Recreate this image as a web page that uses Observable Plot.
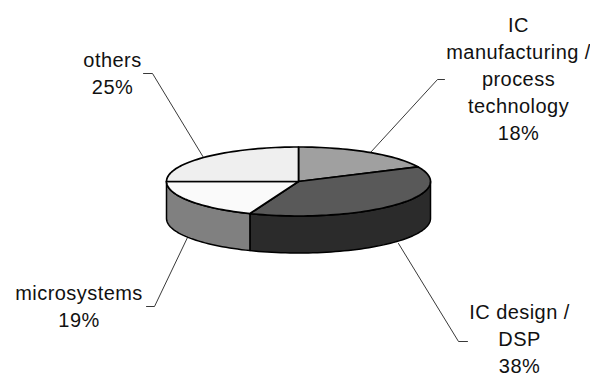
<!DOCTYPE html>
<html>
<head>
<meta charset="utf-8">
<script src="https://cdn.jsdelivr.net/npm/d3@7"></script>
<script src="https://cdn.jsdelivr.net/npm/@observablehq/plot@0.6"></script>
<style>
  html, body { margin: 0; padding: 0; background: #fff; }
  svg text { letter-spacing: 0.45px; }
</style>
</head>
<body>
<div id="chart"></div>
<script>
// Research areas and their shares, clockwise from twelve o'clock
const categories = ["IC manufacturing / process technology", "IC design / DSP", "microsystems", "others"];
const shares = [18, 38, 19, 25];
const labelLines = [
  ["IC", "manufacturing /", "process", "technology"],
  ["IC design /", "DSP"],
  ["microsystems"],
  ["others"]
];

// Tones of the pie's top face and its rim
const topTones = ["#a0a0a0", "#595959", "#fafafa", "#efefef"];
const rimTones = ["#6e6e6e", "#2b2b2b", "#808080", "#bdbdbd"];

// Pie geometry in page units
const pie = {cx: 298, cy: 181, rx: 132, ry: 34.5, depth: 37};
const rimStart = 90, rimEnd = 270;

// Where each label block sits, and the elbow of its leader line
const labelPlacement = [
  {x: 518, y: 76.5, leader: [[444, 79], [437, 79], [370, 152]]},
  {x: 519, y: 337, leader: [[398, 243], [458, 341], [467, 341]]},
  {x: 78.5, y: 304, leader: [[187, 237], [154, 306], [146, 306]]},
  {x: 112, y: 71, leader: [[203, 157], [152, 73], [143, 73]]}
];

// Turn a running percentage into a bearing, in degrees clockwise from the top
const ends = d3.cumsum(shares);
const bearings = categories.map((c, i) => ({
  i,
  from: (ends[i] - shares[i]) * 3.6,
  to: ends[i] * 3.6
}));

const rimPoint = (deg, drop = 0) => {
  const a = deg * Math.PI / 180;
  return {
    x: pie.cx + pie.rx * Math.sin(a),
    y: pie.cy - pie.ry * Math.cos(a) + drop
  };
};
const arc = (from, to, drop = 0) => {
  const n = Math.max(2, Math.ceil((to - from) / 2));
  return d3.range(n + 1).map(k => rimPoint(from + (to - from) * k / n, drop));
};

// Top-face wedges
const wedges = bearings.flatMap(({i, from, to}) =>
  [{x: pie.cx, y: pie.cy}, ...arc(from, to)].map(p => ({...p, id: `top-${i}`, tone: topTones[i]}))
);

// Only the rim facing the viewer shows
const rims = bearings.flatMap(({i, from, to}) => {
  const a = Math.max(from, rimStart), b = Math.min(to, rimEnd);
  if (a >= b) return [];
  return [...arc(a, b), ...arc(a, b, pie.depth).reverse()]
    .map(p => ({...p, id: `rim-${i}`, tone: rimTones[i]}));
});

const leaders = labelPlacement.flatMap((p, i) =>
  p.leader.map(([x, y]) => ({x, y, id: i}))
);
const labels = labelPlacement.map((p, i) => ({
  x: p.x,
  y: p.y,
  text: [...labelLines[i], `${shares[i]}%`].join("\n")
}));

const chart = Plot.plot({
  width: 590,
  height: 374,
  margin: 0,
  style: {background: "#fff"},
  x: {domain: [0, 590], range: [0, 590], axis: null},
  y: {domain: [0, 374], range: [0, 374], axis: null},
  marks: [
    Plot.line(leaders, {x: "x", y: "y", z: "id", stroke: "#222", strokeWidth: 0.9}),
    Plot.line(rims, {x: "x", y: "y", z: "id", fill: "tone", stroke: "#000", strokeWidth: 1.5, curve: "linear-closed"}),
    Plot.line(wedges, {x: "x", y: "y", z: "id", fill: "tone", stroke: "#000", strokeWidth: 1.7, curve: "linear-closed"}),
    Plot.text(labels, {
      x: "x",
      y: "y",
      text: "text",
      fontSize: 20,
      lineHeight: 27 / 20,
      lineAnchor: "middle",
      textAnchor: "middle",
      fill: "#111",
      fontFamily: "'Liberation Sans', Arial, sans-serif"
    })
  ]
});
document.getElementById("chart").append(chart);
</script>
</body>
</html>
